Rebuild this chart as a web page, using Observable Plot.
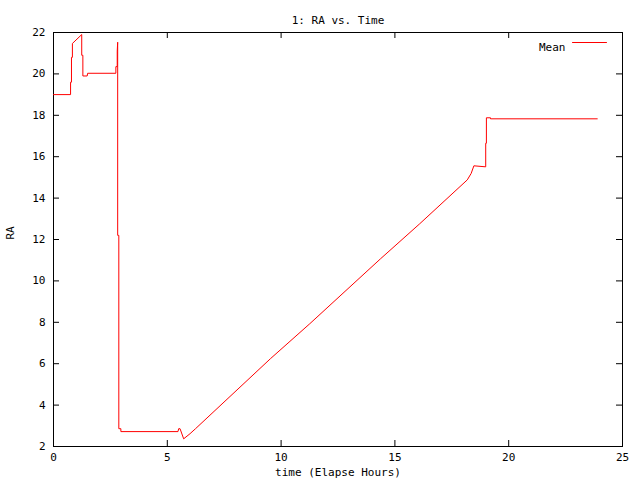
<!DOCTYPE html>
<html>
<head>
<meta charset="utf-8">
<script src="https://cdn.jsdelivr.net/npm/d3@7"></script>
<script src="https://cdn.jsdelivr.net/npm/@observablehq/plot@0.6"></script>
<style>
  html, body { margin: 0; padding: 0; background: #fff; }
</style>
</head>
<body>
<div id="chart"></div>
<script>
// Data
const timeHours = [0, 0.75, 0.75, 0.79, 0.79, 0.83, 0.83, 1.24, 1.24, 1.29, 1.29, 1.48, 1.5, 2.74, 2.74, 2.80, 2.80, 2.82, 2.82, 2.87, 2.87, 2.96, 2.96, 5.47, 5.5, 5.56, 5.72, 6.0, 6.24, 9.53, 11.26, 14.37, 16.09, 18.18, 18.35, 18.47, 18.99, 18.99, 19.02, 19.02, 19.2, 19.2, 23.89];
const raMean    = [19.0, 19.0, 19.6, 19.6, 20.8, 20.8, 21.47, 21.9, 20.9, 20.9, 19.9, 19.9, 20.03, 20.03, 20.35, 20.35, 21.1, 21.53, 12.2, 12.2, 2.86, 2.86, 2.72, 2.72, 2.86, 2.86, 2.37, 2.62, 2.86, 6.24, 7.93, 11.07, 12.76, 14.88, 15.19, 15.56, 15.51, 16.65, 16.65, 17.88, 17.88, 17.83, 17.83];
const xTicks = [0, 5, 10, 15, 20, 25];
const yTicks = [2, 4, 6, 8, 10, 12, 14, 16, 18, 20, 22];
const seriesName = "Mean";
const titleText = "1: RA vs. Time";
const xLabelText = "time (Elapse Hours)";
const yLabelText = "RA";

const data = timeHours.map((t, i) => ({t, ra: raMean[i]}));

// a plain straight segment (no arrowhead) for the legend sample
const lineShape = {
  draw(context, l) { context.moveTo(0, 0); context.lineTo(0, -l); }
};
const tickLen = 6;

const chart = Plot.plot({
  width: 640,
  height: 480,
  marginLeft: 53,
  marginRight: 18,
  marginTop: 32,
  marginBottom: 34,
  style: {fontFamily: "'DejaVu Sans Mono', monospace", fontSize: "11px", background: "#fff", color: "#000"},
  x: {domain: [0, 25]},
  y: {domain: [2, 22]},
  marks: [
    Plot.frame({stroke: "#000", strokeWidth: 1}),
    Plot.axisX(xTicks, {anchor: "bottom", tickSize: 0, tickPadding: 7, label: null, fill: "#000"}),
    Plot.axisY(yTicks, {anchor: "left", tickSize: 0, tickPadding: 8, label: null, fill: "#000"}),
    // gnuplot-style inward ticks, mirrored on all four sides
    Plot.ruleX(xTicks, {x: d => d, y1: 2, y2: 22, stroke: "#000", strokeWidth: 1, strokeDasharray: `${tickLen} 10000`}),
    Plot.ruleX(xTicks, {x: d => d, y1: 22, y2: 2, stroke: "#000", strokeWidth: 1, strokeDasharray: `${tickLen} 10000`}),
    Plot.ruleY(yTicks, {y: d => d, x1: 0, x2: 25, stroke: "#000", strokeWidth: 1, strokeDasharray: `${tickLen} 10000`}),
    Plot.ruleY(yTicks, {y: d => d, x1: 25, x2: 0, stroke: "#000", strokeWidth: 1, strokeDasharray: `${tickLen} 10000`}),
    Plot.line(data, {x: "t", y: "ra", stroke: "#ff0000", strokeWidth: 1, curve: "linear"}),
    Plot.text([titleText], {frameAnchor: "top", dy: -16, fill: "#000"}),
    Plot.text([xLabelText], {frameAnchor: "bottom", dy: 29, fill: "#000"}),
    Plot.text([yLabelText], {frameAnchor: "left", dx: -43, rotate: -90, fill: "#000"}),
    Plot.text([seriesName], {frameAnchor: "top-right", dx: -57, dy: 11, textAnchor: "end", fill: "#000"}),
    Plot.vector([seriesName], {frameAnchor: "top-right", dx: -16, dy: 10, rotate: -90, length: 34, anchor: "start", shape: lineShape, stroke: "#ff0000", strokeWidth: 1})
  ]
});

document.getElementById("chart").appendChild(chart);
</script>
</body>
</html>
